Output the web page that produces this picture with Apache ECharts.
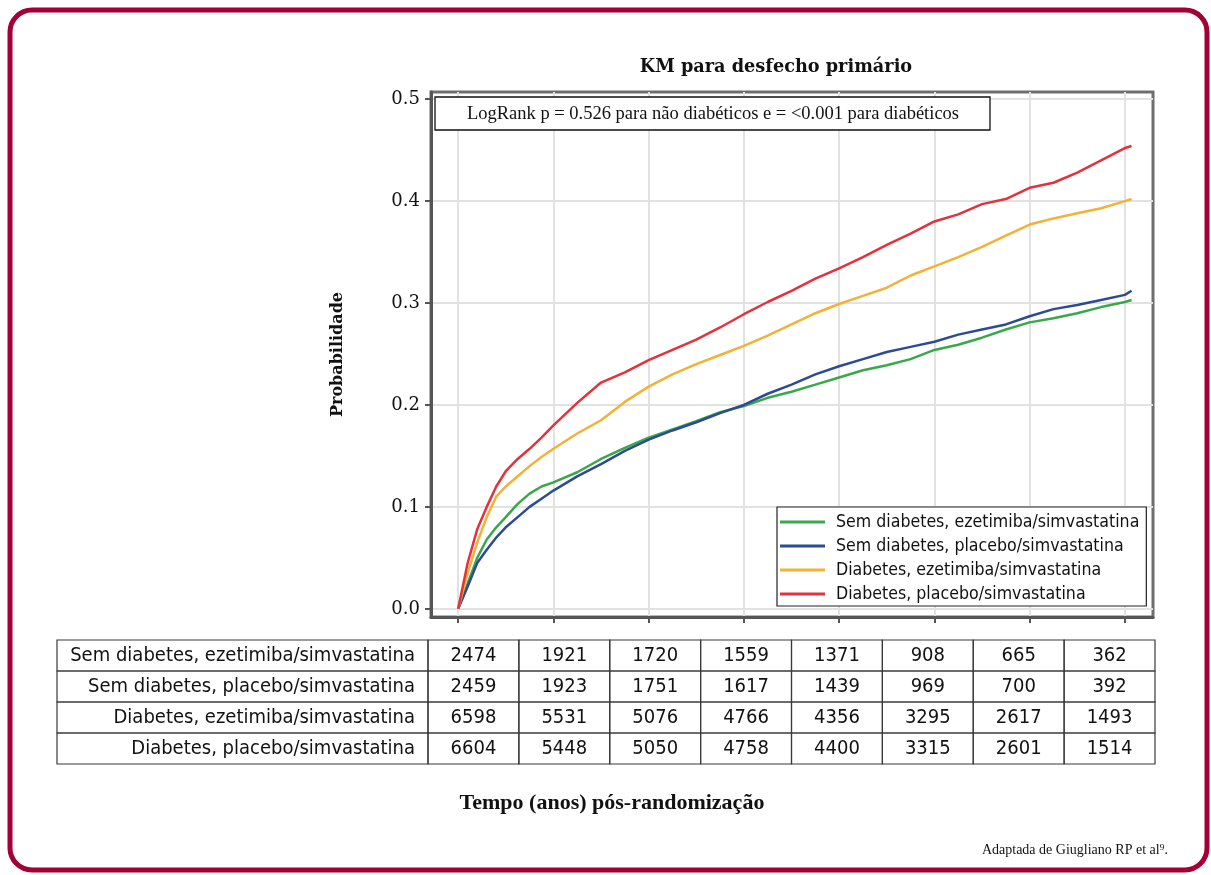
<!DOCTYPE html>
<html>
<head>
<meta charset="utf-8">
<script src="https://cdn.jsdelivr.net/npm/echarts@6/dist/echarts.min.js"></script>
<style>
  html, body { margin: 0; padding: 0; background: #fff; }
  #chart { width: 1211px; height: 875px; }
</style>
</head>
<body>
<div id="chart"></div>
<script>
// tempo (anos) e probabilidade acumulada
const tempo = [0, 0.1, 0.2, 0.3, 0.4, 0.5, 0.625, 0.75, 0.875, 1.0, 1.25, 1.5, 1.75, 2.0, 2.25, 2.5, 2.75, 3.0,
  3.25, 3.5, 3.75, 4.0, 4.25, 4.5, 4.75, 5.0, 5.25, 5.5, 5.75, 6.0, 6.25, 6.5, 6.75, 7.0, 7.07];

const semDiabEze = [0, 0.025, 0.05, 0.068, 0.08, 0.09, 0.103, 0.113, 0.12, 0.124, 0.134, 0.147, 0.158, 0.168,
  0.176, 0.184, 0.193, 0.199, 0.207, 0.213, 0.22, 0.227, 0.234, 0.239, 0.245, 0.254, 0.259, 0.266, 0.274,
  0.281, 0.285, 0.29, 0.296, 0.301, 0.303];
const semDiabPlac = [0, 0.022, 0.045, 0.058, 0.07, 0.08, 0.09, 0.1, 0.108, 0.116, 0.13, 0.142, 0.155, 0.166,
  0.175, 0.183, 0.192, 0.2, 0.211, 0.22, 0.23, 0.238, 0.245, 0.252, 0.257, 0.262, 0.269, 0.274, 0.279,
  0.287, 0.294, 0.298, 0.303, 0.308, 0.312];
const diabEze = [0, 0.035, 0.065, 0.09, 0.11, 0.12, 0.13, 0.14, 0.149, 0.157, 0.172, 0.185, 0.203, 0.218,
  0.23, 0.24, 0.249, 0.258, 0.268, 0.279, 0.29, 0.299, 0.307, 0.315, 0.327, 0.336, 0.345, 0.355, 0.366,
  0.377, 0.383, 0.388, 0.393, 0.4, 0.402];
const diabPlac = [0, 0.045, 0.078, 0.1, 0.12, 0.135, 0.147, 0.157, 0.168, 0.18, 0.202, 0.222, 0.232, 0.244,
  0.254, 0.264, 0.276, 0.289, 0.301, 0.312, 0.324, 0.334, 0.345, 0.357, 0.368, 0.38, 0.387, 0.397, 0.402,
  0.413, 0.418, 0.428, 0.44, 0.452, 0.454];

const nomesSeries = [
  'Sem diabetes, ezetimiba/simvastatina',
  'Sem diabetes, placebo/simvastatina',
  'Diabetes, ezetimiba/simvastatina',
  'Diabetes, placebo/simvastatina'
];

// pacientes em risco
const riscoSemDiabEze = [2474, 1921, 1720, 1559, 1371, 908, 665, 362];
const riscoSemDiabPlac = [2459, 1923, 1751, 1617, 1439, 969, 700, 392];
const riscoDiabEze = [6598, 5531, 5076, 4766, 4356, 3295, 2617, 1493];
const riscoDiabPlac = [6604, 5448, 5050, 4758, 4400, 3315, 2601, 1514];

const anosTicks = [0, 1, 2, 3, 4, 5, 6, 7];
const probTicks = [0, 0.1, 0.2, 0.3, 0.4, 0.5];

const cores = ['#3aa84a', '#2d4a94', '#f3b137', '#e2323c'];
const valores = [semDiabEze, semDiabPlac, diabEze, diabPlac];
const riscos = [riscoSemDiabEze, riscoSemDiabPlac, riscoDiabEze, riscoDiabPlac];

const chart = echarts.init(document.getElementById('chart'));

// tabela de pacientes em risco
const tabEsq = 57, tabCol1 = 428, tabDir = 1155, tabTopo = 640, linhaAlt = 31;
const colW = (tabDir - tabCol1) / riscoSemDiabEze.length;
const sans = '"DejaVu Sans Condensed", "DejaVu Sans", sans-serif';
const serif = '"DejaVu Serif", serif';
const tabela = [];
nomesSeries.forEach(function (nome, i) {
  const y = tabTopo + i * linhaAlt;
  tabela.push({
    type: 'rect', shape: { x: tabEsq, y: y, width: tabCol1 - tabEsq, height: linhaAlt },
    style: { fill: 'none', stroke: '#3a3a3a', lineWidth: 1.2 }
  });
  tabela.push({
    type: 'text', x: tabCol1 - 13, y: y + linhaAlt / 2,
    style: { text: nome, font: '20px ' + sans, fill: '#111', align: 'right', verticalAlign: 'middle' }
  });
  riscos[i].forEach(function (n, j) {
    const x = tabCol1 + j * colW;
    tabela.push({
      type: 'rect', shape: { x: x, y: y, width: colW, height: linhaAlt },
      style: { fill: 'none', stroke: '#3a3a3a', lineWidth: 1.2 }
    });
    tabela.push({
      type: 'text', x: x + colW / 2, y: y + linhaAlt / 2,
      style: { text: String(n), font: '20px ' + sans, fill: '#111', align: 'center', verticalAlign: 'middle' }
    });
  });
});

const option = {
  backgroundColor: '#fff',
  animation: false,
  grid: {
    left: 431, top: 92, width: 722, height: 525,
    show: true, borderColor: '#6e6e6e', borderWidth: 3, backgroundColor: '#fff'
  },
  xAxis: {
    type: 'value', min: -0.285, max: 7.295,
    axisLine: { show: true, onZero: false, lineStyle: { color: '#555', width: 3 } },
    axisTick: { show: true, customValues: anosTicks, length: 6, lineStyle: { color: '#555', width: 2 } },
    axisLabel: { show: false },
    splitLine: { show: true, lineStyle: { color: '#e2e2e2', width: 2 } }
  },
  yAxis: {
    type: 'value', min: -0.008, max: 0.507,
    name: 'Probabilidade', nameLocation: 'middle', nameGap: 85,
    nameTextStyle: { fontFamily: serif, fontWeight: 'bold', fontSize: 16, color: '#111' },
    axisLine: { show: true, onZero: false, lineStyle: { color: '#555', width: 3 } },
    axisTick: { show: true, customValues: probTicks, length: 6, lineStyle: { color: '#555', width: 2 } },
    axisLabel: {
      customValues: probTicks, margin: 11, fontFamily: serif, fontSize: 18, color: '#111',
      formatter: function (v) { return v.toFixed(1); }
    },
    splitLine: { show: true, lineStyle: { color: '#e2e2e2', width: 2 } }
  },
  legend: {
    orient: 'vertical', left: 777, top: 507,
    data: nomesSeries,
    backgroundColor: '#fff', borderColor: '#222', borderWidth: 1.2,
    padding: [6, 7, 3, 3],
    icon: 'rect', itemWidth: 45, itemHeight: 3, itemGap: 6,
    textStyle: { fontFamily: sans, fontSize: 17.6, color: '#111', lineHeight: 18, padding: [0, 0, 0, 6] }
  },
  series: nomesSeries.map(function (nome, i) {
    return {
      name: nome, type: 'line', showSymbol: false, z: 3,
      data: tempo.map(function (t, k) { return [t, valores[i][k]]; }),
      lineStyle: { color: cores[i], width: 2.5 },
      itemStyle: { color: cores[i] }
    };
  }),
  graphic: [
    {
      type: 'rect', shape: { x: 10, y: 10, width: 1197, height: 860, r: 22 },
      style: { fill: 'none', stroke: '#a50034', lineWidth: 5 }, z: 10
    },
    {
      type: 'text', x: 776, y: 67,
      style: { text: 'KM para desfecho primário', font: 'bold 17.7px ' + serif, fill: '#111', align: 'center', verticalAlign: 'middle' }
    },
    {
      type: 'rect', shape: { x: 435, y: 97, width: 555, height: 33 },
      style: { fill: '#fff', stroke: '#111', lineWidth: 1.3 }, z: 50
    },
    {
      type: 'text', x: 713, y: 114, z: 51,
      style: { text: 'LogRank p = 0.526 para não diabéticos e = <0.001 para diabéticos', font: '18.5px "Liberation Serif", serif', fill: '#111', align: 'center', verticalAlign: 'middle' }
    },
    {
      type: 'text', x: 612, y: 803,
      style: { text: 'Tempo (anos) pós-randomização', font: 'bold 22px "Liberation Serif", serif', fill: '#111', align: 'center', verticalAlign: 'middle' }
    },
    {
      type: 'text', x: 1168, y: 850,
      style: { text: 'Adaptada de Giugliano RP et al⁹.', font: '14px "Liberation Serif", serif', fill: '#111', align: 'right', verticalAlign: 'middle' }
    }
  ].concat(tabela)
};

chart.setOption(option);
</script>
</body>
</html>
